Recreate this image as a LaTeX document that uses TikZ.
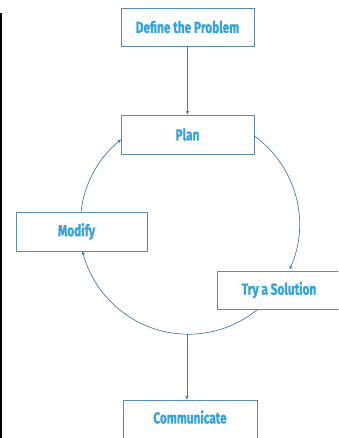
\documentclass[tikz,border=0pt]{standalone}
\usepackage{fontspec}
\setmainfont{Fira Sans}[BoldFeatures={FakeBold=1.3}]
\usetikzlibrary{arrows.meta}
\definecolor{txtblue}{HTML}{35A3DF}
\definecolor{lineblue}{HTML}{4A7DA6}
\definecolor{boxblue}{HTML}{5A8DB5}
\newcommand{\lbl}[1]{\scalebox{0.74}[1]{\bfseries #1}}
\tikzset{
  box/.style={draw=boxblue, line width=0.9pt, fill=white, inner sep=0pt, text=txtblue,
    font=\fontsize{16}{16}\selectfont},
  conn/.style={draw=lineblue, line width=0.7pt, -{Stealth[length=4pt,width=3.5pt]}},
}
\begin{document}
\begin{tikzpicture}[x=1pt,y=1pt]
\useasboundingbox (0,0) rectangle (338,438);
\clip (0,0) rectangle (338,438);
\draw[black, line width=1.6pt] (0.8,425) -- (0.8,0);
\coordinate (c) at (189,213);
\node[box, minimum width=133pt, minimum height=38pt] (define) at (187.5,411) {\lbl{Define the Problem}};
\node[box, minimum width=133pt, minimum height=39pt] (plan) at (187.5,303.5) {\lbl{Plan}};
\node[box, minimum width=131pt, minimum height=39pt] (modify) at (81.5,206.5) {\hspace*{-10pt}\lbl{Modify}};
\node[box, minimum width=124pt, minimum height=38pt] (try) at (279,148) {\lbl{Try a Solution}};
\node[box, minimum width=134pt, minimum height=44pt] (comm) at (190,16) {\raisebox{10pt}{\lbl{Communicate}}};
\coordinate (bot) at (187,104);
\draw[conn] (define) -- (plan);
\draw[conn] ([yshift=-1.5pt]plan.east) arc[start angle=54, end angle=-24.5, radius=109pt];
\draw[conn] ([xshift=41pt]try.south west) arc[start angle=-50.6, end angle=-166.2, radius=109pt];
\draw[conn] ([xshift=-0.5pt]modify.north) arc[start angle=173.1, end angle=128.7, radius=109pt];
\draw[conn] (bot) -- (comm.north -| bot);
\end{tikzpicture}
\end{document}
